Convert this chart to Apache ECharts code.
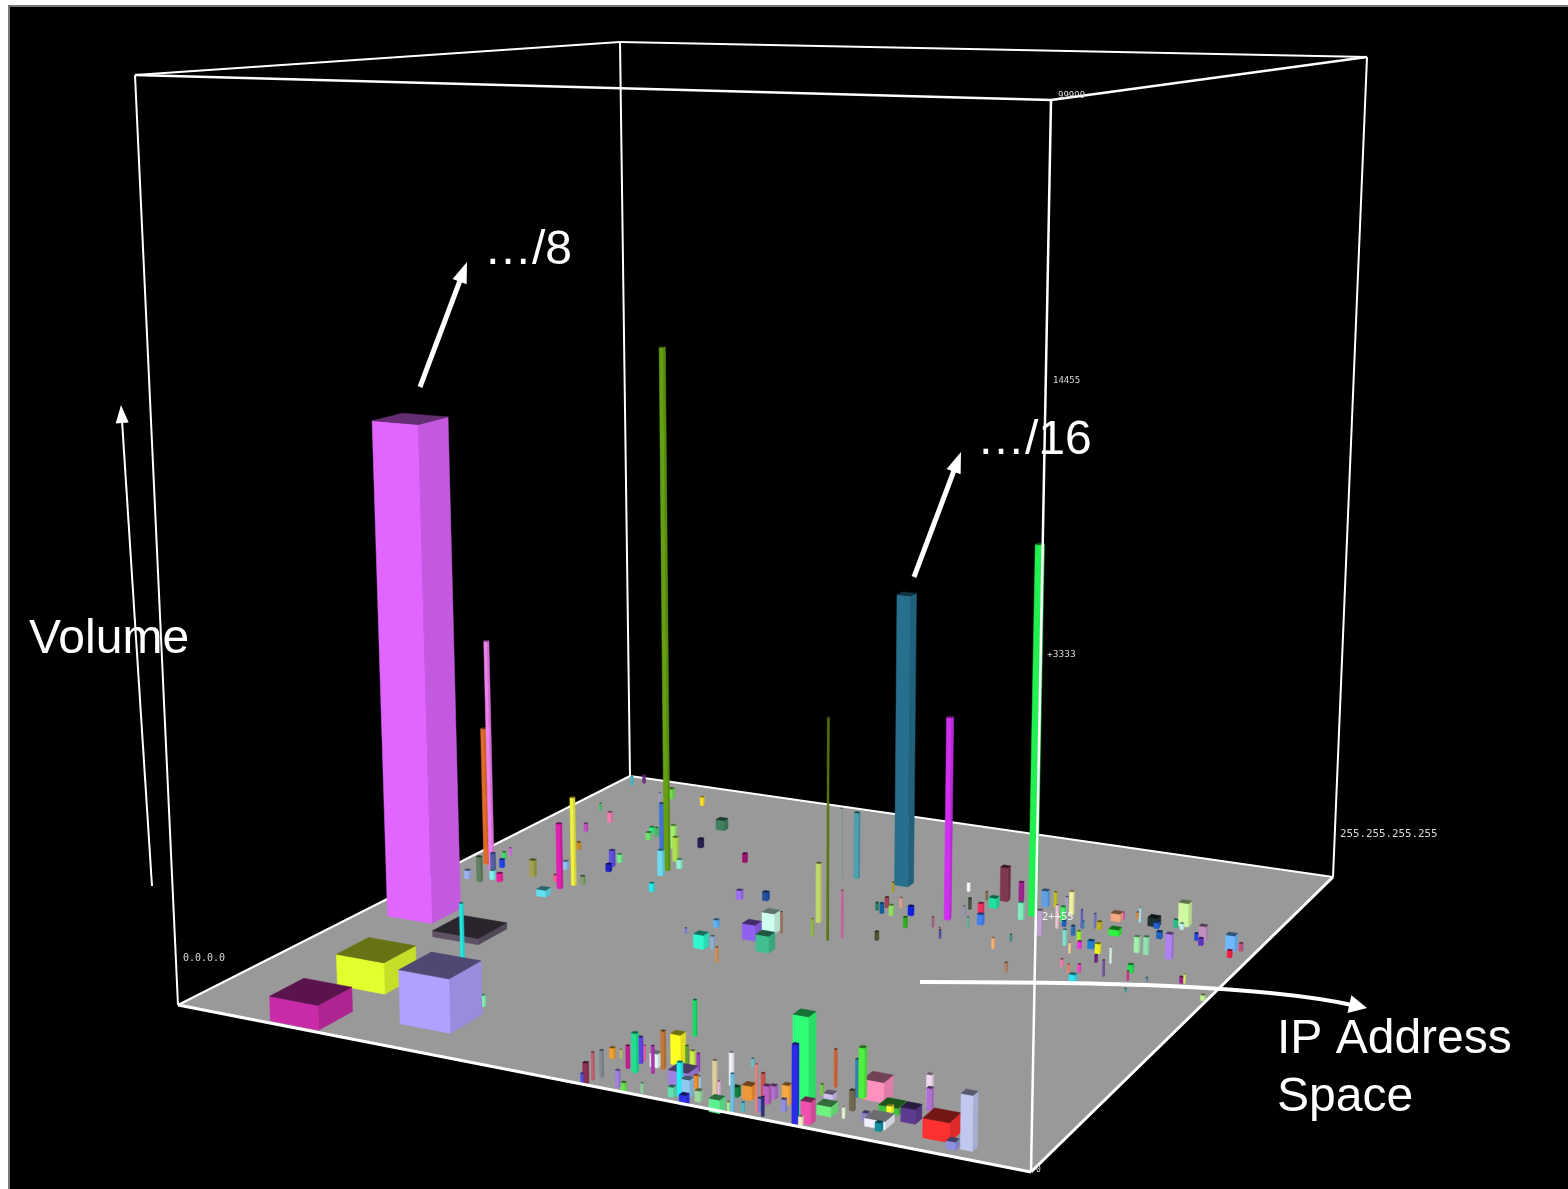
<!DOCTYPE html>
<html><head><meta charset="utf-8"><style>html,body{margin:0;background:#fff}#c{width:1568px;height:1189px}</style>
<script src="https://cdn.jsdelivr.net/npm/echarts@6/dist/echarts.min.js"></script></head><body><div id="c"></div><script>
// Address position across the floor (0-1000)
const address=[67,150,151,280,156,199,299,248,535,636,721,541,59,33,174,165,504,553,473,456,548,
509,511,513,517,501,509,545,556,575,529,541,534,535,552,559,563,569,581,585,
602,606,613,620,627,
620,620,636,598,664,645,647,646,681,677,664,688,642,678,702,688,711,700,700,703,703,724,718,
747,749,755,758,765,751,740,743,785,784,774,779,793,820,820,807,823,829,
847,848,853,889,
911,925,24,34,95,203,102,155,229,156,165,168,212,240,251,258,241,320,271,381,411,404,382,421,436,461,459,468,482,492,487,519,63,43,65,58,43,41,73,85,111,
161,147,133,155,
106,182,45,75,83,179,185,179,536,670,650,617,668,689,714,645,664,678,648,669,547,557,553,570,568,591,603,592,632,653,655,724,733,768,755,764,722,734,761,753,761,
769,794,809,790,
790,791,813,805,804,810,825,838,847,871,863,817,822,833,837,844,877,889,863,869,884,917,888,897,895,932,925,935,972,978,983,817,832,842,846,894,900,911,920,957,960,
996];
// Second address position, front to back (0-1000)
const subnet=[383,37,160,92,344,261,146,655,737,639,698,508,547,577,552,534,561,522,732,723,170,
0,4,15,26,76,80,10,3,7,59,53,77,84,77,58,73,94,91,96,
44,13,17,20,0,
38,44,14,84,0,32,34,66,1,0,42,10,121,43,12,54,8,39,54,18,21,29,48,
28,4,4,14,43,79,83,108,39,61,94,96,103,79,73,44,41,27,
64,107,96,43,
19,26,963,979,913,724,932,922,838,782,757,773,738,692,634,669,757,727,574,595,606,491,456,421,421,384,475,507,506,445,443,513,513,517,541,573,602,620,527,524,560,
502,555,602,582,
680,560,841,751,800,638,619,657,702,735,725,747,705,740,678,685,674,640,661,623,632,624,647,623,655,633,590,534,605,576,573,568,600,500,635,667,736,738,722,727,694,
677,615,592,652,
680,681,613,632,687,686,619,607,577,537,581,726,732,677,744,731,630,628,728,720,687,627,733,729,745,703,700,686,685,661,687,547,529,537,507,563,537,500,544,555,556,
514];
// Bar volume as share of the frame height (0-1000)
const volume=[580,26,34,57,7,64,12,642,351,236,435,255,284,167,106,78,69,55,80,85,38,
11,21,28,27,11,9,17,9,10,23,40,27,16,14,28,39,31,21,15,
17,10,34,18,10,
15,12,11,18,13,36,15,33,39,11,10,9,8,14,48,23,19,18,13,13,8,12,19,
100,78,9,22,10,6,11,38,11,20,38,50,20,7,7,8,8,8,
14,31,22,19,
8,53,12,11,11,59,13,11,13,8,9,11,29,30,31,11,11,11,10,11,10,9,6,16,15,17,18,23,25,19,6,20,30,10,27,10,9,9,11,10,20,
8,8,10,39,
9,10,9,10,13,20,9,10,12,40,10,11,12,23,20,13,13,12,11,12,9,12,12,12,11,11,12,10,12,11,10,12,8,11,29,27,19,18,27,18,17,
7,18,12,11,
21,8,8,13,17,9,9,11,8,18,18,9,8,7,7,17,18,20,10,7,8,28,9,7,27,17,8,8,18,8,9,8,10,9,8,9,10,4,4,7,10,
6];
// Address block span on the floor (0-1000)
const blockSpan=[62.4,62.7,62.8,63.4,62.3,3.3,3.9,5.5,17.7,6.3,8.2,1.7,4.5,5.4,4.5,5.3,5.3,1.7,5.6,1.9,3.1,
2.2,4.5,2.2,3.0,4.6,1.5,3.7,4.4,2.2,3.0,5.3,3.8,1.5,9.1,2.3,3.8,11.4,2.3,3.8,
22.5,5.9,4.5,8.9,7.4,
3.7,3.0,5.9,2.3,11.8,3.7,3.7,3.8,2.9,2.2,6.0,2.2,2.3,10.5,1.5,3.0,2.2,6.0,6.0,4.4,2.2,4.4,7.5,
17.0,5.1,3.7,11.0,15.6,9.8,2.3,2.3,2.2,4.5,3.0,6.1,22.8,21.0,5.2,5.9,22.2,5.9,
15.7,5.3,5.3,28.1,
9.5,12.5,2.0,3.0,2.0,4.7,7.0,4.0,11.6,4.8,5.7,2.9,5.6,5.6,6.4,5.5,5.7,4.7,4.5,6.3,6.3,5.2,1.7,12.8,3.4,2.5,16.4,15.7,1.7,16.3,6.0,1.7,5.3,6.2,4.5,4.5,3.6,1.8,5.3,5.3,6.3,
12.3,4.5,5.4,2.7,
3.7,4.5,1.9,3.8,4.8,5.5,5.5,4.6,1.8,9.2,1.8,2.8,9.2,4.6,5.5,2.7,5.5,6.3,1.8,1.8,2.7,3.6,3.6,4.5,2.7,5.4,3.6,3.5,1.8,1.8,1.8,2.6,1.8,2.6,5.4,2.7,7.4,2.8,4.6,2.8,4.6,
3.6,3.6,1.8,3.6,
1.8,2.7,3.6,3.6,1.8,4.5,6.2,5.3,2.6,1.7,1.8,11.0,2.8,11.8,2.8,1.8,5.4,5.3,11.9,5.5,5.4,7.1,3.7,3.7,12.0,8.2,3.6,4.5,10.8,4.5,3.6,2.6,1.7,2.6,6.9,5.2,1.7,1.7,1.7,3.5,1.7,
4.3];
const barColors='e066ff c82aa8 e4ff2e b0a0ff 5e5264 22e8e0 80ffb0 64a012 26708e d030f0 20f050 5a7a10 f080f0 e06a28 f0f040 e020b0 c0d870 d060a0 50a0b0 90a0a0 10e060 5050e0 903050 c06070 808890 f0a030 c0c060 a080e0 70e050 90d0a0 c02090 20e090 6040f0 f060a0 e0f8f8 b030b0 c07838 ffff20 60a030 d0f040 a080e0 60e0b0 20f0f0 90c8f0 3030f0 f09030 a0d8f8 a0d8a0 a040c0 60f090 e0d0a0 f8c0f0 f0f0f8 70c0e0 a0f090 108040 40c0d0 70c0d0 f09838 f08080 d05050 303070 c060c0 b070d0 8080e0 80e0f0 9090e0 f8a840 30ff78 2a2ae8 f0f0c0 f050b0 70f080 d0c0f0 70d040 d06030 e0f8d0 706850 3080b0 50f040 ff90c0 40c040 ffff30 9080d0 f0f0ff 1090a0 5c3a90 f0d8f0 b070d0 ff3030 9090e0 c0c8f0 30c0d0 703080 a0a0d0 4070e0 70e050 ffe020 408060 30f080 70e070 40c060 a0f070 b0e050 70d8f0 90f0d0 282050 a01070 20f0f0 a070f0 2050a0 60b0f0 8080e0 30f8d0 90b0d8 d09050 9060f0 d0fff0 a07050 40c090 7020f0 90c030 608060 a0b0f0 5060a0 2040f0 40e070 e060f0 80f0f0 f020a0 a0a050 60e0f0 f06090 90c0f0 708050 d09020 80a070 50c060 c050c0 f080b0 6050e0 2020c0 70f090 b0a020 803850 807050 ffffff 20e0a0 a02090 80f0c0 405040 f03060 4080f0 a090c0 60b0a0 208060 1060a0 a04050 90e060 e0a090 1020e0 30b020 505030 a06080 e09070 4050a0 ffb070 409080 b08060 c0a0d0 f0c0d0 60a0e0 c0c020 f0f0a0 a0a0c0 40f060 2060c0 80e0d0 f0d090 3070b0 6060c0 30a0b0 f030e0 a0f030 7070c0 c0b020 2080d0 f0f020 702080 7050a0 d0f0e0 f8a880 f030e0 30f040 e08030 a0e0f0 a0f0b0 90e0b0 203030 2060d0 2060c0 b080f0 20c090 c0f0f0 d0f8a0 c090c0 2040e0 6030c0 70b8ff f02040 c05080 f080a0 f08060 f040c0 30e0f0 20e050 d03080 40a0a0 5090a0 a02090 d0f060 c0f090'.split(' ');
// Tick labels as printed beside the frame
const addressLow='0.0.0.0', addressHigh='255.255.255.255';
const volumeTicks=['99999','14455','+3333','2++55','0'];

// Frame corners on screen: front-left, front-right, back-right, back-left
const floorQuad=[[178,1005],[1031,1172],[1333,877],[630,776]];
const topQuad=[[135,75],[1051,100],[1367,57],[620,42]];
function homog(q){const[x0,y0]=q[0],[x1,y1]=q[1],[x2,y2]=q[2],[x3,y3]=q[3];
 const dx1=x1-x2,dx2=x3-x2,sx=x0-x1+x2-x3,dy1=y1-y2,dy2=y3-y2,sy=y0-y1+y2-y3,den=dx1*dy2-dx2*dy1;
 const g=(sx*dy2-dx2*sy)/den,h=(dx1*sy-sx*dy1)/den;
 return[x1-x0+g*x1,x3-x0+h*x3,x0,y1-y0+g*y1,y3-y0+h*y3,y0,g,h];}
function ap(H,u,v){const w=H[6]*u+H[7]*v+1;return[(H[0]*u+H[1]*v+H[2])/w,(H[3]*u+H[4]*v+H[5])/w];}
const HF=homog(floorQuad),HT=homog(topQuad);
function project(u,v,w){const a=ap(HF,u,v),b=ap(HT,u,v);return[a[0]+(b[0]-a[0])*w,a[1]+(b[1]-a[1])*w];}
function shade(hex,f){const n=parseInt(hex,16);return'rgb('+[(n>>16)&255,(n>>8)&255,n&255].map(c=>Math.round(c*f)).join(',')+')';}

const order=address.map((_,i)=>i).sort((a,b)=>ap(HF,address[a]/1000,subnet[a]/1000)[1]-ap(HF,address[b]/1000,subnet[b]/1000)[1]);
const barData=order.map(i=>[address[i],subnet[i],volume[i],blockSpan[i],i]);

function renderBar(p,api){
 const u=api.value(0)/1000,v=api.value(1)/1000,w=api.value(2)/1000,s=api.value(3)/2000,col=barColors[api.value(4)];
 const pt=(a,b,c)=>api.coord(project(a,b,c));
 const face=(pts,f)=>({type:'polygon',shape:{points:pts},style:{fill:shade(col,f),stroke:shade(col,f),lineWidth:.5}});
 const u0=u-s,u1=u+s,v0=v-s,v1=v+s;
 return{type:'group',children:[
  face([pt(u1,v0,0),pt(u1,v1,0),pt(u1,v1,w),pt(u1,v0,w)],.87),
  face([pt(u0,v0,0),pt(u1,v0,0),pt(u1,v0,w),pt(u0,v0,w)],1),
  face([pt(u0,v0,w),pt(u1,v0,w),pt(u1,v1,w),pt(u0,v1,w)],.45)]};
}
// Edges of the frame, each from [u,v,w] to [u,v,w]
const backEdges=[[0,1,0,1,1,0,2],[0,0,0,0,1,0,2]];
const frontEdges=[[0,0,0,1,0,0,3],[1,0,0,1,1,0,3],[0,0,0,0,0,1,2],[1,0,0,1,0,1,2.5],[1,1,0,1,1,1,2],[0,1,0,0,1,1,2],[0,0,1,1,0,1,2.5],[1,0,1,1,1,1,2.5],[1,1,1,0,1,1,2],[0,1,1,0,0,1,2]];
function renderEdge(p,api){
 const a=api.coord(project(api.value(0),api.value(1),api.value(2))),b=api.coord(project(api.value(3),api.value(4),api.value(5)));
 return{type:'line',shape:{x1:a[0],y1:a[1],x2:b[0],y2:b[1]},style:{stroke:'#fff',lineWidth:api.value(6)}};
}
function renderFloor(p,api){
 return{type:'polygon',shape:{points:[[0,0],[1,0],[1,1],[0,1]].map(c=>api.coord(project(c[0],c[1],0)))},style:{fill:'#999999'}};
}
function head(x1,y1,x2,y2,len,wid){const d=Math.hypot(x2-x1,y2-y1),ux=(x2-x1)/d,uy=(y2-y1)/d,bx=x2-ux*len,by=y2-uy*len;
 return{type:'polygon',z:100,shape:{points:[[x2,y2],[bx+uy*wid/2,by-ux*wid/2],[bx-uy*wid/2,by+ux*wid/2]]},style:{fill:'#fff'}};}
function straight(x1,y1,x2,y2,lw,len,wid){const d=Math.hypot(x2-x1,y2-y1),k=(d-len*.8)/d;
 return[{type:'line',z:100,shape:{x1,y1,x2:x1+(x2-x1)*k,y2:y1+(y2-y1)*k},style:{stroke:'#fff',lineWidth:lw}},head(x1,y1,x2,y2,len,wid)];}
const big=(text,x,y)=>({type:'text',z:101,x,y,style:{text,fill:'#fff',font:'48px "Liberation Sans"',verticalAlign:'middle'}});
const tiny=(text,x,y,size,fill)=>({type:'text',z:101,x,y,style:{text,fill:fill||'#d8d8d8',font:size+'px "DejaVu Sans Mono"',verticalAlign:'middle'}});

const chart=echarts.init(document.getElementById('c'),null,{renderer:'canvas'});
chart.setOption({animation:false,backgroundColor:'#fff',
 grid:{left:0,right:0,top:0,bottom:0},
 xAxis:{type:'value',min:0,max:1568,show:false},
 yAxis:{type:'value',min:0,max:1189,inverse:true,show:false},
 tooltip:{show:false},
 graphic:{elements:[
  {type:'rect',z:-1,shape:{x:9,y:6,width:1600,height:1230},style:{fill:'#000',stroke:'#777',lineWidth:2}},
  ...straight(420,387,467,262,5,21,15),
  ...straight(914,577,961,452,5,21,15),
  ...straight(152,886,121,405,2,18,13),
  {type:'bezierCurve',z:100,shape:{x1:920,y1:982,cpx1:1100,cpy1:982,cpx2:1260,cpy2:985,x2:1352,y2:1005},style:{stroke:'#fff',lineWidth:4,fill:null}},
  head(1340,1002,1367,1008,18,18),
  big('…/8',484,251),big('…/16',977,441),big('Volume',29,640),big('IP Address',1277,1040),big('Space',1277,1098),
  tiny(addressLow,183,958,10),tiny(addressHigh,1340,834,10.8),
  tiny(volumeTicks[0],1058,96,9),tiny(volumeTicks[1],1053,381,9),tiny(volumeTicks[2],1047,655,9.5),tiny(volumeTicks[3],1042,917,10.5,'#f4f4f4'),tiny(volumeTicks[4],1036,1170,8)
 ]},
 series:[
  {type:'custom',name:'floor',z:1,silent:true,clip:false,data:[[0,0]],renderItem:renderFloor},
  {type:'custom',name:'back edges',z:1.5,silent:true,clip:false,data:backEdges,renderItem:renderEdge},
  {type:'custom',name:'volume',z:3,silent:true,clip:false,data:barData,renderItem:renderBar},
  {type:'custom',name:'frame',z:4,silent:true,clip:false,data:frontEdges,renderItem:renderEdge}
 ]});
</script></body></html>
